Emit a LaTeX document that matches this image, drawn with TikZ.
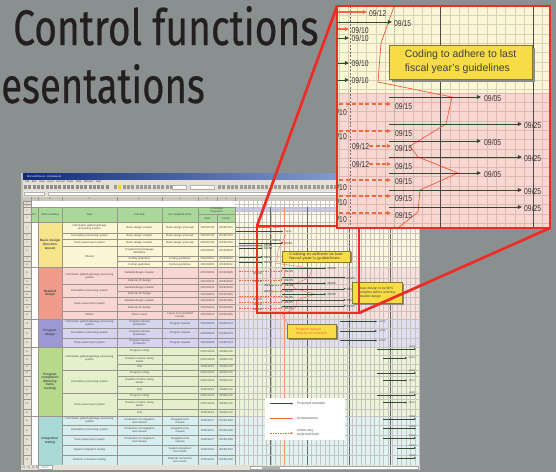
\documentclass[tikz,border=0pt]{standalone}
\usepackage{fontspec}
\usepackage{graphicx}
\setmainfont{Liberation Sans}
\newfontfamily\titlefont[FakeBold=0.4]{Fira Sans}
\usetikzlibrary{arrows.meta}
\definecolor{bg}{HTML}{8A8F90}
\definecolor{titlecol}{HTML}{231E20}
\definecolor{redf}{HTML}{EE2B24}
\definecolor{yelL}{HTML}{FBF6D4}
\definecolor{yelT}{HTML}{F6E58A}
\definecolor{pinL}{HTML}{F8D6D1}
\definecolor{pinT}{HTML}{EF9C8C}
\definecolor{purL}{HTML}{D6D4EE}
\definecolor{purT}{HTML}{9C98D4}
\definecolor{grnL}{HTML}{E4F0CC}
\definecolor{grnT}{HTML}{B6D98A}
\definecolor{bluL}{HTML}{D6EEEE}
\definecolor{bluT}{HTML}{A8DAD8}
\definecolor{hdrG}{HTML}{A9D89A}
\definecolor{lav}{HTML}{C8C6EA}
\definecolor{pgreen}{HTML}{2E4A30}
\definecolor{achO}{HTML}{F26A3A}
\definecolor{callY}{HTML}{F7DC48}
\definecolor{gridc}{HTML}{9A948C}
\definecolor{chrome}{HTML}{E4E1D4}
\definecolor{winA}{HTML}{0E2A78}
\definecolor{winB}{HTML}{9FB8E6}
\definecolor{bgridY}{HTML}{D8D2BC}
\definecolor{bgridP}{HTML}{DDB8B4}
\newcount\rowc \rowc=4
\newcount\labn \labn=0
\def\glw{0.9pt}\def\don{4pt}\def\doff{2.5pt}
\tikzset{
  cellb/.style={draw=gridc, line width=0.3pt},
  ggrid/.style={draw=gridc!55, line width=0.25pt},
  ct/.style={font=\fontsize{2.7}{3.0}\selectfont, text=black!72, align=center, inner sep=0pt},
  rn/.style={font=\fontsize{2.3}{2.6}\selectfont, text=black!60, inner sep=0pt},
  team/.style={font=\fontsize{3.2}{3.6}\selectfont\bfseries, text=black!72, align=center, inner sep=0pt},
  projA/.style={draw=pgreen, line width=\glw, -{Triangle[length=0pt 4.5, width=0pt 4]}},
  achA/.style={draw=achO, line width=1.2*\glw, -{Triangle[length=0pt 3.8, width=0pt 3.5]}},
  underA/.style={draw=achO, line width=1.2*\glw, dash pattern=on \don off \doff, -{Triangle[length=0pt 3.8, width=0pt 3.5]}},
  polyA/.style={draw=achO!80!red, line width=0.75*\glw},
  glab/.style={anchor=west, inner sep=0pt, font=\fontsize{8.5}{9}\selectfont, text=black!80},
  slab/.style={anchor=west, inner sep=0pt, font=\fontsize{2.5}{2.7}\selectfont, text=black!75},
  projS/.style={draw=pgreen, line width=0.4pt, -{Triangle[length=0pt 4.5, width=0pt 4]}},
  achS/.style={draw=achO, line width=0.5pt, -{Triangle[length=0pt 3.8, width=0pt 3.5]}},
  underS/.style={draw=achO, line width=0.5pt, dash pattern=on 1.5pt off 1pt, -{Triangle[length=0pt 3.8, width=0pt 3.5]}},
  redline/.style={draw=redf, line width=2.7pt},
  calltxt/.style={align=left, inner sep=0pt, text=black!75},
}
\newcommand\glabel[3]{\global\advance\labn by 1 \node[glab] (gl\the\labn) at (#1,#2) {\scalebox{0.8}[1]{#3}};}
\newcommand\glabelE[3]{\global\advance\labn by 1 \node[glab,anchor=east] (gl\the\labn) at (#1,#2) {\scalebox{0.8}[1]{#3}};}
\newcommand\slabel[3]{\global\advance\labn by 1 \node[slab] (sl\the\labn) at (#1,#2) {#3};}
% group: y1 y2 light team text name
\newcommand\grp[6]{%
  \fill[#3] (62,#1) rectangle (235,#2);
  \fill[#3!75!white] (235,#1) rectangle (420,#2);
  \fill[#4] (38,#1) rectangle (62,#2);
  \fill[white] (31,#1) rectangle (38,#2);
  \node[team, text width=22pt] (team#6) at (50,{(#1+#2)/2}) {#5};
}
\newcommand\grpb[2]{\draw[cellb] (38,#1) rectangle (62,#2) (31,#1) rectangle (38,#2);}
\newcommand\tcell[4]{%
  \draw[cellb] (62,#1) rectangle (117,#2);
  \node[ct, text width=53pt] (task#4) at (89.5,{(#1+#2)/2}) {#3};
}
% row: y1 y2 sub for start finish
\newcommand\srow[6]{%
  \global\advance\rowc by 1
  \draw[cellb] (117,#1) rectangle (162,#2) (162,#1) rectangle (198,#2) (198,#1) rectangle (217,#2) (217,#1) rectangle (235,#2) (23,#1) rectangle (31,#2);
  \draw[ggrid] (235,#2) -- (420,#2);
  \node[rn] (rn\the\rowc) at (27,{(#1+#2)/2}) {\the\rowc};
  \node[ct, text width=43pt] (sub\the\rowc) at (139.5,{(#1+#2)/2}) {#3};
  \node[ct, text width=35pt] (for\the\rowc) at (180,{(#1+#2)/2}) {#4};
  \node[ct, text width=18pt] (st\the\rowc) at (207.5,{(#1+#2)/2}) {#5};
  \node[ct, text width=17pt] (fi\the\rowc) at (226,{(#1+#2)/2}) {#6};
}
% magnified gantt content, in callout coordinates
\newcommand\gcontent[1]{%
  \draw[polyA] (397,-2) -- (381,43) -- (378,82) -- (452,97) -- (446,124) -- (410,146) -- (418,157) -- (458,173) -- (420,190) -- (418,212) -- (388,236);
  \draw[achA] (300,12) -- (367,12); \glabel{369}{13.5}{09/12}
  \draw[projA] (300,22) -- (392,22); \glabel{394}{23.5}{09/15}
  \draw[achA] (300,29) -- (349,29); \glabel{351.5}{30}{09/10}
  \draw[projA] (300,38) -- (349,38); \glabel{351.5}{38.5}{09/10}
  \draw[projA] (300,63) -- (349,63); \glabel{351.5}{63.5}{09/10}
  \draw[projA] (300,80) -- (349,80); \glabel{351.5}{80.5}{09/10}
  \draw[projA] (389,97) -- (481,97); \glabel{484}{98}{09/05}
  \draw[underA] (300,104) -- (391,104); \glabel{395}{106}{09/15}
  \glabelE{347}{112}{09/10}
  \draw[projA] (389,124) -- (522,124); \glabel{524}{125.5}{09/25}
  \draw[underA] (300,131) -- (391,131); \glabel{395}{133}{09/15}
  \glabelE{347}{136}{09/10}
  \draw[projA] (389,141) -- (481,141); \glabel{484}{142}{09/05}
  \glabel{352}{146}{09/12}
  \draw[underA] (369,146) -- (391,146); \glabel{395}{148.5}{09/15}
  \draw[projA] (389,157) -- (522,157); \glabel{524}{158.5}{09/25}
  \glabel{352}{164}{09/12}
  \draw[underA] (369,164) -- (391,164); \glabel{395}{166}{09/15}
  \draw[projA] (389,173) -- (481,173); \glabel{484}{174}{09/05}
  \draw[underA] (300,180) -- (391,180); \glabel{395}{181.5}{09/15}
  \glabelE{347}{187}{09/10}
  \draw[projA] (389,190) -- (522,190); \glabel{524}{191.5}{09/25}
  \draw[underA] (300,196) -- (391,196); \glabel{395}{198}{09/15}
  \glabelE{347}{202}{09/10}
  \draw[projA] (389,207) -- (522,207); \glabel{524}{208.5}{09/25}
  \draw[underA] (300,213) -- (391,213); \glabel{395}{215}{09/15}
  \glabelE{347}{219}{09/10}
  \fill[black!45] (391.5,47.5) rectangle (534.5,81.5);
  \draw[draw=black!45!callY, fill=callY, line width=0.5*\glw] (389,45) rectangle (532,79);
  \node[calltxt, font=\fontsize{10.5}{14}\selectfont] (#1call) at (460.5,62) {Coding to adhere to last\\fiscal year's guidelines};
}
\begin{document}
\begin{tikzpicture}[x=1pt,y=-1pt]
\fill[bg] (0,0) rectangle (556,472);
\useasboundingbox (0,0) rectangle (556,472);
% title
\node[anchor=base west, inner sep=0pt, text=titlecol] (title1) at (13,45) {\titlefont\fontsize{50}{50}\selectfont\scalebox{0.78}[1]{Control functions}};
\node[anchor=base east, inner sep=0pt, text=titlecol] (title2) at (205,103) {\titlefont\fontsize{50}{50}\selectfont\scalebox{0.765}[1]{esentations}};
% window
\fill[white] (21,173) rectangle (420,470);
\shade[left color=winA, right color=winB] (21,173) rectangle (420,179.5);
\node[anchor=west, inner sep=0pt, font=\fontsize{2.6}{3}\selectfont, text=white] (wtitle) at (27,176.3) {Microsoft Excel - schedule.xls};
\fill[chrome] (21,179.5) rectangle (420,196.5);
\fill[chrome!85!black] (21,173) rectangle (23,470);
\node[anchor=west, inner sep=0pt, font=\fontsize{2.6}{3}\selectfont, text=black!80] (menu) at (25,182) {File\quad Edit\quad View\quad Insert\quad Format\quad Tools\quad Data\quad Window\quad Help};
\foreach \x in {24,28.3,...,110} {\fill[black!45] (\x,185.3) rectangle +(3,3.3);}
\foreach \x in {114,118.3,...,170} {\fill[black!40] (\x,185.3) rectangle +(3,3.3);}
\fill[yellow!70!orange] (118.3,185.3) rectangle +(3,3.3);
\draw[fill=white, draw=black!30, line width=0.2pt] (172,185.3) rectangle (186,188.6) (190,185.3) rectangle (214,188.6);
\foreach \x in {218,222.3,...,410} {\fill[black!40] (\x,185.3) rectangle +(3,3.3);}
\draw[fill=white, draw=black!30, line width=0.2pt] (24,191.6) rectangle (44,195.4) (48,191.6) rectangle (418,195.4);
\fill[chrome!88!black] (23,196.5) rectangle (420,201);
\foreach \x/\l [count=\i] in {34.5/A,50/B,89.5/C,139.5/D,180/E,207.5/F,226/G} {\node[rn] (col\i) at (\x,198.8) {\l};}
\foreach \x in {31,38,62,117,162,198,217,235} {\draw[cellb] (\x,196.5) -- (\x,201);}
% sheet base
\fill[chrome] (23,201) rectangle (31,465);
\fill[white] (31,201) rectangle (420,207);
\fill[hdrG] (31,207) rectangle (235,222);
\fill[lav] (235,207) rectangle (420,211.5);
\fill[yelL!45!white] (235,211.5) rectangle (420,222);
\grp{222}{267.5}{yelL}{yelT}{Basic design\\(function\\layout)}{1}
\grp{267.5}{319}{pinL}{pinT}{Detailed\\design}{2}
\grp{319}{347}{purL}{purT}{Program\\design}{3}
\grp{347}{416}{grnL}{grnT}{Program\\completion\\(Meeting items\\testing)}{4}
\grp{416}{465}{bluL}{bluT}{Integration\\testing}{5}
% gantt grid
\foreach \x in {239.5,244,...,420} {\draw[ggrid] (\x,201) -- (\x,465);}
\foreach \y in {204,207,211.5,214.5,222} {\draw[ggrid] (235,\y) -- (420,\y);}
\foreach \x in {270,307,349,390} {\draw[black!60, line width=0.5pt] (\x,207) -- (\x,465);}
\draw[achO!75, line width=0.4pt] (284,207) -- (284,465);
% header
\draw[cellb] (23,201) rectangle (31,204) (23,204) rectangle (31,207) (23,207) rectangle (31,214.5) (23,214.5) rectangle (31,222);
\foreach \y/\n in {202.5/1,205.5/2,210.7/3,218.2/4} {\node[rn] (rnh\n) at (27,\y) {\n};}
\draw[cellb] (31,207) rectangle (38,222) (38,207) rectangle (62,222) (62,207) rectangle (117,222) (117,207) rectangle (162,222) (162,207) rectangle (198,222) (198,207) rectangle (235,214.5) (198,214.5) rectangle (217,222) (217,214.5) rectangle (235,222);
\node[ct] (hno) at (34.5,214.5) {No.};
\node[ct] (hteam) at (50,214.5) {Team Heading};
\node[ct] (htask) at (89.5,214.5) {Task};
\node[ct] (hsub) at (139.5,214.5) {Sub task};
\node[ct] (hfor) at (180,214.5) {For assigned items};
\node[ct] (hsch) at (216.5,210.7) {Scheduled\\Projection};
\node[ct] (hst) at (207.5,218.2) {Start};
\node[ct] (hfi) at (226,218.2) {Finish};
% yellow rows
\tcell{222}{233}{Information gathering/image\\processing system}{1}
\tcell{233}{239}{Cumulative processing system}{2}
\tcell{239}{246}{Touch-panel input system}{3}
\tcell{246}{267.5}{Shared}{4}
\srow{222}{233}{Basic design creation}{Basic design (manual)}{2006/07/03}{2006/07/31}
\srow{233}{239}{Basic design creation}{Basic design (manual)}{2006/07/03}{2006/07/31}
\srow{239}{246}{Basic design creation}{Basic design (manual)}{2006/07/03}{2006/07/31}
\srow{246}{256}{Programming language\\definitions}{}{2006/08/01}{2006/08/10}
\srow{256}{261.5}{Coding guidelines}{Coding guidelines}{2006/08/01}{2006/08/10}
\srow{261.5}{267.5}{Format guidelines}{Format guidelines}{2006/08/01}{2006/08/10}
% pink rows
\tcell{267.5}{284.5}{Information gathering/image processing\\system}{5}
\tcell{284.5}{297.5}{Cumulative processing system}{6}
\tcell{297.5}{311}{Touch-panel input system}{7}
\tcell{311}{319}{Others}{8}
\srow{267.5}{278}{Detailed design creation}{}{2006/08/14}{2006/09/05}
\srow{278}{284.5}{External I/F design}{}{2006/08/14}{2006/09/25}
\srow{284.5}{291}{Detailed design creation}{}{2006/08/14}{2006/09/05}
\srow{291}{297.5}{External I/F design}{}{2006/08/14}{2006/09/25}
\srow{297.5}{304}{Detailed design creation}{}{2006/08/14}{2006/09/05}
\srow{304}{311}{External I/F design}{}{2006/08/14}{2006/09/25}
\srow{311}{319}{Client screen}{Layout of screen/field\\formats}{2006/08/14}{2006/09/25}
% purple rows
\tcell{319}{328.5}{Information gathering/image processing\\system}{9}
\tcell{328.5}{338}{Cumulative processing system}{10}
\tcell{338}{347}{Touch-panel input system}{11}
\srow{319}{328.5}{Program manual\\production}{Program manual}{2006/09/26}{2006/10/13}
\srow{328.5}{338}{Program manual\\production}{Program manual}{2006/09/26}{2006/10/13}
\srow{338}{347}{Program manual\\production}{Program manual}{2006/09/26}{2006/10/13}
% green rows
\tcell{347}{370}{Information gathering/image processing\\system}{12}
\tcell{370}{393}{Cumulative processing system}{13}
\tcell{393}{416}{Touch-panel input system}{14}
\srow{347}{355.5}{Program coding}{}{2006/10/16}{2006/11/10}
\srow{355.5}{364}{Creation of items being\\tested}{}{2006/10/16}{2006/11/10}
\srow{364}{370}{Unit}{}{2006/11/13}{2006/11/24}
\srow{370}{376}{Program coding}{}{2006/10/16}{2006/11/10}
\srow{376}{386}{Creation of items being\\tested}{}{2006/10/16}{2006/11/10}
\srow{386}{393}{Unit}{}{2006/11/13}{2006/11/24}
\srow{393}{399}{Program coding}{}{2006/10/16}{2006/11/10}
\srow{399}{409}{Creation of items being\\tested}{}{2006/10/16}{2006/11/10}
\srow{409}{416}{Unit}{}{2006/11/13}{2006/11/24}
% blue rows
\tcell{416}{425.5}{Information gathering/image processing\\system}{15}
\tcell{425.5}{435}{Cumulative processing system}{16}
\tcell{435}{445}{Touch-panel input system}{17}
\tcell{445}{455}{System integration testing}{18}
\tcell{455}{465}{External connection testing}{19}
\srow{416}{425.5}{Production of integration\\test manual}{Integration test\\manual}{2006/11/27}{2006/12/08}
\srow{425.5}{435}{Production of integration\\test manual}{Integration test\\manual}{2006/11/27}{2006/12/08}
\srow{435}{445}{Production of integration\\test manual}{Integration test\\manual}{2006/11/27}{2006/12/08}
\srow{445}{455}{}{System integration\\test results}{2006/12/11}{2006/12/22}
\srow{455}{465}{}{External connection\\test results}{2006/12/11}{2006/12/22}
\grpb{222}{267.5}\grpb{267.5}{319}\grpb{319}{347}\grpb{347}{416}\grpb{416}{465}
% gantt bars outside the zoomed box
\draw[achS] (236,227.5) -- (271,227.5); \slabel{273}{227.5}{09/12}
\draw[projS] (236,231.5) -- (283,231.5); \slabel{285}{231.5}{09/15}
\draw[projS] (340,321.5) -- (377,321.5); \slabel{379}{321.5}{10/06}
\draw[projS] (340,331) -- (377,331); \slabel{379}{331}{10/06}
\draw[projS] (340,340.5) -- (377,340.5); \slabel{379}{340.5}{10/06}
\foreach \a/\b in {349/358,373/380.5,395/402.5} {
  \draw[projS] (377,\a) -- (416,\a); \slabel{409}{\a-2.3}{11/24}
  \draw[projS] (383,\b) -- (407,\b); \slabel{408.5}{\b}{11/10}
}
\foreach \a/\s in {419/383,428.5/383,438/383,448/397,458/397} {
  \draw[projS] (\s,\a) -- (416,\a); \slabel{409}{\a-2.3}{12/08}
}
\draw[polyA, line width=0.3pt] (282.5,315.6) -- (288,324);
% zoomed copy inside the small box
\begin{scope}[shift={(95.577,235.38)}, xscale=0.479, yscale=0.34, transform shape]
  \def\glw{0.4pt}\def\don{1.6pt}\def\doff{1pt}
  \gcontent{s}
\end{scope}
% spreadsheet callouts
\fill[black!45] (353.5,283.5) rectangle (403.5,304.5);
\draw[draw=black!45!callY, fill=callY, line width=0.3pt] (352,282) rectangle (402,303);
\node[calltxt, font=\fontsize{3.3}{4.3}\selectfont] (basic) at (377,292.5) {Basic design to be 90\%\\complete before entering\\detailed design};
\fill[black!45] (288.5,325.5) rectangle (337.5,339.5);
\draw[draw=black!45!callY, fill=callY, line width=0.3pt] (287,324) rectangle (336,338);
\node[calltxt, font=\fontsize{3.4}{4.4}\selectfont, text=achO!90!red] (pman) at (311.5,331) {Program manual\\must be on schedule};
% legend
\fill[white] (265,398) rectangle (345,440);
\draw[projS] (270,403.5) -- (293,403.5);
\node[anchor=west, inner sep=0pt, font=\fontsize{3.3}{4}\selectfont, text=black!70] (lg1) at (297,403.5) {Projected schedule};
\draw[achS] (270,418.5) -- (293,418.5);
\node[anchor=west, inner sep=0pt, font=\fontsize{3.3}{4}\selectfont, text=black!70] (lg2) at (297,418.5) {Achievements};
\draw[underS] (270,433) -- (293,433);
\node[anchor=west, inner sep=0pt, font=\fontsize{3.3}{4}\selectfont, text=black!70, align=left] (lg3) at (297,433) {Under-way\\projected finish};
% bottom bar
\fill[chrome] (21,465) rectangle (420,470);
\draw[fill=white, draw=black!35, line width=0.2pt] (38,465) rectangle (52,469.2);
\node[rn] (sheet) at (45,467.2) {Sheet1};
\node[rn] (nav) at (30,467.3) {|\(\triangleleft\triangleleft\triangleright\triangleright\)};
\draw[fill=white, draw=black!35, line width=0.2pt] (250,465.8) rectangle (418,469.2);
\fill[black!30] (262,466.3) rectangle (280,468.7);
% small box
\coordinate (sTL) at (257,226);
\coordinate (sBR) at (359,313);
\draw[redline] (sTL) rectangle (sBR);
% big callout
\coordinate (bTL) at (337,6);
\coordinate (bBR) at (550,228);
\begin{scope}
  \clip (bTL) rectangle (bBR);
  \fill[yelL] (337,6) rectangle (550,93);
  \fill[pinL] (337,93) rectangle (550,228);
  \foreach \k in {-11,...,12} {\draw[bgridY, line width=0.5pt] ({440.7+\k*9.26},6) -- ({440.7+\k*9.26},93);
     \draw[bgridP, line width=0.5pt] ({440.7+\k*9.26},93) -- ({440.7+\k*9.26},228);}
  \foreach \k in {0,...,9} {\draw[bgridY, line width=0.5pt] (337,{6+\k*9.3}) -- (550,{6+\k*9.3});}
  \foreach \k in {0,...,15} {\draw[bgridP, line width=0.5pt] (337,{93+\k*9.3}) -- (550,{93+\k*9.3});}
  \draw[black!70, line width=0.9pt] (440.7,6) -- (440.7,228) (533.3,6) -- (533.3,228);
  \draw[black!55, line width=0.8pt, dash pattern=on 2pt off 1.5pt] (350,6) -- (350,228);
  \draw[green!45!black!45, line width=0.7pt, dash pattern=on 1pt off 1.5pt] (394,6) -- (394,228);
  \gcontent{b}
\end{scope}
\draw[redline] (bTL) rectangle (bBR);
% connectors
\draw[redline, line cap=round] (sTL) -- (bTL);
\draw[redline, line cap=round] (sBR) -- (bBR);
\end{tikzpicture}
\end{document}
